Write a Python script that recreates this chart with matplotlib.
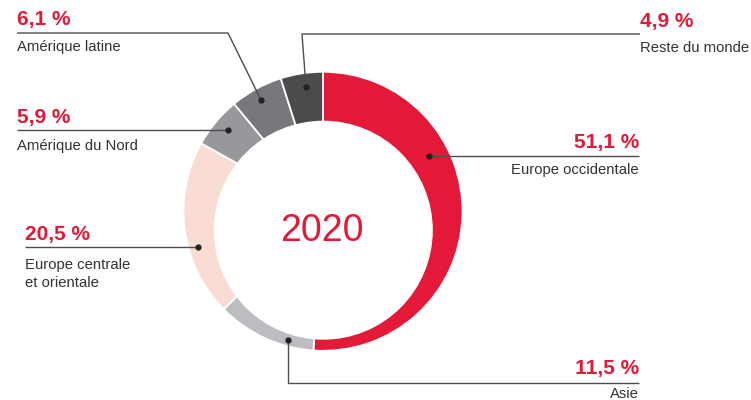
import matplotlib.pyplot as plt
from matplotlib.patches import Circle

# --- data ---
regions = ["Europe occidentale", "Asie", "Europe centrale\net orientale",
           "Amérique du Nord", "Amérique latine", "Reste du monde"]
shares = [51.1, 11.5, 20.5, 5.9, 6.1, 4.9]
share_labels = ["51,1 %", "11,5 %", "20,5 %", "5,9 %", "6,1 %", "4,9 %"]
year = "2020"

colors = ["#E31937", "#BCBDC0", "#F9DCD3", "#97989B", "#77787B", "#4A4B4D"]
RED = "#E31937"
TXT = "#333333"
LINE = "#4D4D4D"

W, H = 751, 400


def P(x, y):
    # pixel coords (origin top left) -> data coords
    return x, H - y


fig = plt.figure(figsize=(W / 100, H / 100), dpi=100)
ax = fig.add_axes([0, 0, 1, 1])

# --- ring: outer circle and an offset inner hole ---
ax.pie(shares, colors=colors, startangle=90, counterclock=False,
       center=P(323, 211.3), radius=139.5,
       wedgeprops=dict(edgecolor="white", linewidth=1.3))
ax.add_patch(Circle(P(323.3, 230.2), 109.5, facecolor="white", edgecolor="none", zorder=3))

ax.set_xlim(0, W)
ax.set_ylim(0, H)
ax.set_aspect("auto")
ax.axis("off")

ax.text(*P(322, 231), year, color=RED, fontsize=27, family="Liberation Sans",
        ha="center", va="center", zorder=5)

# --- leader lines & labels (pixel layout) ---
# path points from dot outwards, text anchor x, alignment, baselines
layout = [
    dict(path=[(429, 156), (639, 156)], x=639, ha="right", pct_y=148, name_y=174),
    dict(path=[(288, 340), (288, 383), (639, 383)], x=639, ha="right", pct_y=374, name_y=397.5),
    dict(path=[(198, 247), (25, 247)], x=25, ha="left", pct_y=240, name_y=269),
    dict(path=[(228, 130), (17, 130)], x=17, ha="left", pct_y=123, name_y=150),
    dict(path=[(261, 100), (228, 33), (17, 33)], x=17, ha="left", pct_y=25.5, name_y=51.5),
    dict(path=[(306, 87), (302, 34), (640, 34)], x=640, ha="left", pct_y=26.5, name_y=52.5),
]

for name, pct, lay in zip(regions, share_labels, layout):
    pts = [P(*p) for p in lay["path"]]
    xs = [p[0] for p in pts]
    ys = [p[1] for p in pts]
    ax.plot(xs, ys, color=LINE, lw=1.0, zorder=6, solid_capstyle="butt")
    ax.plot(xs[0], ys[0], "o", color="#222222", ms=3.5, zorder=7)
    ax.text(*P(lay["x"], lay["pct_y"]), pct, color=RED, fontsize=15,
            fontweight="bold", family="Liberation Sans", ha=lay["ha"], va="baseline")
    # one text per line so every baseline sits where the reference has it
    for i, line in enumerate(name.split("\n")):
        ax.text(*P(lay["x"], lay["name_y"] + 18 * i), line, color=TXT, fontsize=10.7,
                family="Liberation Sans", ha=lay["ha"], va="baseline")

fig.savefig("out.png", dpi=100)
